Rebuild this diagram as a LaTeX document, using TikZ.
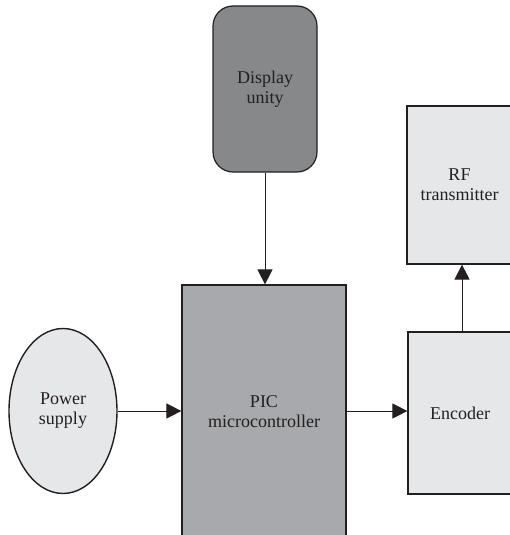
\documentclass[tikz,border=0pt]{standalone}
\usepackage{fontspec}
\setmainfont{Liberation Serif}
\usetikzlibrary{shapes.geometric,arrows.meta}
\definecolor{darkfill}{HTML}{87888A}
\definecolor{midfill}{HTML}{A8A9AC}
\definecolor{lightfill}{HTML}{E6E7E8}
\definecolor{inkgray}{HTML}{231F20}
\begin{document}
\begin{tikzpicture}[x=1pt,y=-1pt]
			
			\tikzstyle{unit} = [rectangle, rounded corners=20pt, minimum width=104pt, minimum height=166pt, text centered, align=center, draw=inkgray, line width=1.2pt, fill=darkfill]
			\tikzstyle{core} = [rectangle, minimum width=164pt, minimum height=254pt, text centered, align=center, draw=inkgray, line width=1.2pt, fill=midfill]
			\tikzstyle{source} = [ellipse, minimum width=108pt, minimum height=165pt, text centered, align=center, draw=inkgray, line width=1.4pt, fill=lightfill]
			\tikzstyle{block} = [rectangle, minimum width=104pt, minimum height=160pt, text centered, align=center, draw=inkgray, line width=1.2pt, fill=lightfill]
			\tikzstyle{arrow} = [draw=inkgray, line width=1pt, -{Triangle[width=15pt,length=15pt]}]
			
			\useasboundingbox (0,0) rectangle (510,535);
			\clip (0,0) rectangle (510,535);
			\fontsize{18}{20}\selectfont
			\color{inkgray}
			
			\node (display) [unit] at (265,89) {Display\\unity};
			\node (pic) [core] at (264,412) {PIC\\microcontroller};
			\node (power) [source] at (63,411) {Power\\supply};
			\node (encoder) [block, minimum height=162pt] at (460,413) {Encoder};
			\node (rf) [block, minimum width=105pt, minimum height=158pt] at (459.5,185) {RF\\transmitter};
			
			\draw [arrow] (display.south) -- (display.south |- pic.north);
			\draw [arrow] (power.east) -- (power.east -| pic.west);
			\draw [arrow] (pic.east |- power.east) -- (encoder.west |- power.east);
			\draw [arrow] ([xshift=2pt]encoder.north) -- ([xshift=2pt]encoder.north |- rf.south);
			
		\end{tikzpicture}
\end{document}
